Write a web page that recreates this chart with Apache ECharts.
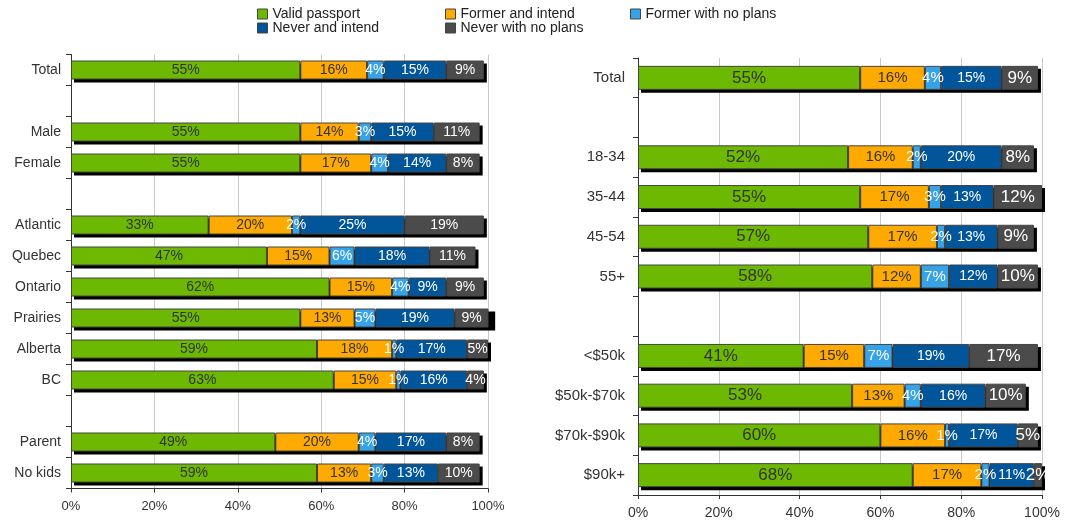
<!DOCTYPE html>
<html>
<head>
<meta charset="utf-8">
<script src="https://cdn.jsdelivr.net/npm/echarts@6/dist/echarts.min.js"></script>
<style>
  html, body { margin: 0; padding: 0; background: #fff; }
  #chart { width: 1069px; height: 520px; }
</style>
</head>
<body>
<div id="chart"></div>
<script>
// series names
const seriesNames = ['Valid passport', 'Former and intend', 'Former with no plans', 'Never and intend', 'Never with no plans']
const seriesColors = ['#6DB800', '#FFAA00', '#36A2E8', '#00559B', '#4B4B4B']

// left panel (blank strings are spacer rows)
const leftCats = ['Total', ' ', 'Male', 'Female', '  ', 'Atlantic', 'Quebec', 'Ontario', 'Prairies', 'Alberta', 'BC', '   ', 'Parent', 'No kids']
const leftValid = [55, null, 55, 55, null, 33, 47, 62, 55, 59, 63, null, 49, 59]
const leftFormerIntend = [16, null, 14, 17, null, 20, 15, 15, 13, 18, 15, null, 20, 13]
const leftFormerNoPlans = [4, null, 3, 4, null, 2, 6, 4, 5, 1, 1, null, 4, 3]
const leftNeverIntend = [15, null, 15, 14, null, 25, 18, 9, 19, 17, 16, null, 17, 13]
const leftNeverNoPlans = [9, null, 11, 8, null, 19, 11, 9, 9, 5, 4, null, 8, 10]

// right panel
const rightCats = ['Total', ' ', '18-34', '35-44', '45-54', '55+', '  ', '<$50k', '$50k-$70k', '$70k-$90k', '$90k+']
const rightValid = [55, null, 52, 55, 57, 58, null, 41, 53, 60, 68]
const rightFormerIntend = [16, null, 16, 17, 17, 12, null, 15, 13, 16, 17]
const rightFormerNoPlans = [4, null, 2, 3, 2, 7, null, 7, 4, 1, 2]
const rightNeverIntend = [15, null, 20, 13, 13, 12, null, 19, 16, 17, 11]
const rightNeverNoPlans = [9, null, 8, 12, 9, 10, null, 17, 10, 5, 2]

const xTicks = [0, 20, 40, 60, 80, 100]

const leftData = [leftValid, leftFormerIntend, leftFormerNoPlans, leftNeverIntend, leftNeverNoPlans]
const rightData = [rightValid, rightFormerIntend, rightFormerNoPlans, rightNeverIntend, rightNeverNoPlans]
const labelColors = ['#333', '#333', '#fff', '#fff', '#fff']
const rightLabelSizes = [17, 15, 15, 14, 17]

const font = 'Liberation Sans, Arial, sans-serif'

function makeSeries(data, idx, side) {
  return data.map(function (vals, i) {
    return {
      name: seriesNames[i],
      type: 'bar',
      stack: side,
      xAxisIndex: idx,
      yAxisIndex: idx,
      barWidth: side === 'left' ? 19 : 24,
      z: 3,
      data: vals,
      itemStyle: {
        color: seriesColors[i],
        borderColor: '#444',
        borderWidth: 1
      },
      label: {
        show: true,
        position: 'inside',
        color: labelColors[i],
        fontFamily: font,
        fontSize: side === 'left' ? 14 : rightLabelSizes[i],
        formatter: function (p) { return p.value == null ? '' : p.value + '%' }
      },
      emphasis: { disabled: true }
    }
  })
}

// black drop shadow behind each stacked bar, sized from the summed values
function shadowSeries(data, idx, bw) {
  const rows = data[0].map(function (v, r) {
    if (v == null) return [null, r]
    let sum = 0
    data.forEach(function (s) { sum += s[r] || 0 })
    return [sum, r]
  })
  return {
    type: 'custom',
    xAxisIndex: idx,
    yAxisIndex: idx,
    z: 1,
    silent: true,
    clip: false,
    encode: { x: 0, y: 1 },
    data: rows,
    renderItem: function (params, api) {
      const total = api.value(0)
      if (isNaN(total)) return null
      const a = api.coord([0, api.value(1)])
      const b = api.coord([total, api.value(1)])
      return {
        type: 'rect',
        shape: { x: a[0] + 3, y: a[1] - bw / 2 + 3, width: b[0] - a[0], height: bw },
        style: { fill: '#000' }
      }
    }
  }
}

function xAxis(idx, fs, margin) {
  return {
    type: 'value',
    gridIndex: idx,
    min: 0,
    max: 100,
    interval: 20,
    axisLine: { show: true, lineStyle: { color: '#333' } },
    axisTick: { show: true, length: 4, lineStyle: { color: '#333' } },
    splitLine: { show: true, lineStyle: { color: '#c8c8c8' } },
    axisLabel: {
      formatter: function (v) { return xTicks.indexOf(v) >= 0 ? v + '%' : '' },
      color: '#333',
      fontFamily: font,
      fontSize: fs,
      margin: margin
    }
  }
}

function yAxis(idx, cats, fs, margin) {
  return {
    type: 'category',
    gridIndex: idx,
    inverse: true,
    data: cats,
    axisLine: { show: true, lineStyle: { color: '#333' } },
    axisTick: { show: true, length: 5, lineStyle: { color: '#333' } },
    splitLine: { show: false },
    axisLabel: { color: '#333', fontFamily: font, fontSize: fs, margin: margin, interval: 0 }
  }
}

function legend(left, names) {
  return {
    left: left,
    top: 7,
    padding: 0,
    orient: 'vertical',
    itemWidth: 10,
    itemHeight: 10,
    itemGap: 0,
    icon: 'rect',
    data: names,
    selectedMode: false,
    itemStyle: { borderColor: '#444', borderWidth: 1 },
    textStyle: { color: '#222', fontFamily: font, fontSize: 14, lineHeight: 14 }
  }
}

const chart = echarts.init(document.getElementById('chart'))
chart.setOption({
  animation: false,
  legend: [
    legend(257, [seriesNames[0], seriesNames[3]]),
    legend(445, [seriesNames[1], seriesNames[4]]),
    legend(630, [seriesNames[2]])
  ],
  grid: [
    { left: 71, top: 54.5, width: 417, height: 434 },
    { left: 638, top: 58, width: 404, height: 438 }
  ],
  xAxis: [xAxis(0, 13, 11), xAxis(1, 14, 11)],
  yAxis: [yAxis(0, leftCats, 14, 10), yAxis(1, rightCats, 15, 13)],
  series: [shadowSeries(leftData, 0, 19), shadowSeries(rightData, 1, 24)]
    .concat(makeSeries(leftData, 0, 'left'))
    .concat(makeSeries(rightData, 1, 'right'))
})
</script>
</body>
</html>
